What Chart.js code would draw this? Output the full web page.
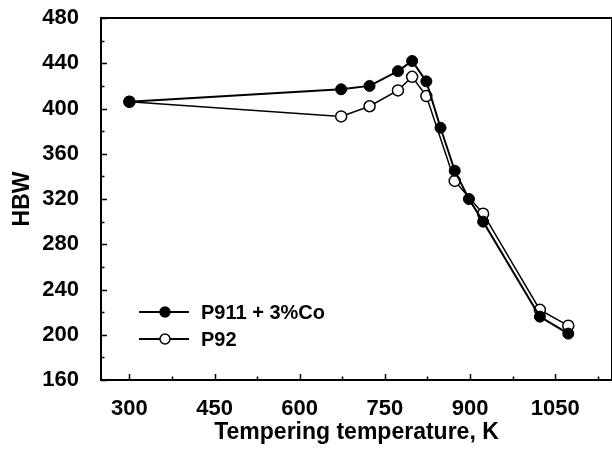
<!DOCTYPE html>
<html>
<head>
<meta charset="utf-8">
<script src="https://cdn.jsdelivr.net/npm/chart.js@4/dist/chart.umd.min.js"></script>
<style>
  html, body { margin: 0; padding: 0; background: #fff; }
  #wrap { width: 612px; height: 450px; }
</style>
</head>
<body>
<div id="wrap"><canvas id="c" width="612" height="450"></canvas></div>
<script>
// ---- data ----
const tempsCo  = [300, 673, 723, 773, 798, 823, 848, 873, 898, 923, 1023, 1073];
const hbwCo    = [406, 417, 420, 433, 442, 424, 383, 345, 320, 300, 216, 201];
const tempsP92 = [300, 673, 723, 773, 798, 823, 873, 923, 1023, 1073];
const hbwP92   = [406, 393, 402, 416, 428, 411, 336, 307, 222, 208];
const xTicks = [300, 450, 600, 750, 900, 1050];
const xMinor = [375, 525, 675, 825, 975, 1125];
const yTicks = [160, 200, 240, 280, 320, 360, 400, 440, 480];
const yMinor = [180, 220, 260, 300, 340, 380, 420, 460];
const labels = ['P911 + 3%Co', 'P92'];

const FONT = "'Liberation Sans', Arial, sans-serif";

const toPts = (xs, ys) => xs.map((x, i) => ({ x: x, y: ys[i] }));

const framePlugin = {
  id: 'frame',
  afterDraw(chart) {
    const { ctx, chartArea: a, scales: { x, y } } = chart;
    ctx.save();
    ctx.strokeStyle = '#000';
    ctx.lineWidth = 2;
    ctx.strokeRect(a.left, a.top, a.right - a.left, a.bottom - a.top);
    ctx.lineWidth = 1.5;
    ctx.beginPath();
    xTicks.forEach(v => { const p = Math.round(x.getPixelForValue(v)) + 0.5; ctx.moveTo(p, a.bottom); ctx.lineTo(p, a.bottom - 6); });
    xMinor.forEach(v => { const p = Math.round(x.getPixelForValue(v)) + 0.5; ctx.moveTo(p, a.bottom); ctx.lineTo(p, a.bottom - 3.5); });
    yTicks.forEach(v => { const p = Math.round(y.getPixelForValue(v)) + 0.5; ctx.moveTo(a.left, p); ctx.lineTo(a.left + 6, p); });
    yMinor.forEach(v => { const p = Math.round(y.getPixelForValue(v)) + 0.5; ctx.moveTo(a.left, p); ctx.lineTo(a.left + 3.5, p); });
    ctx.stroke();

    // legend inside plot
    const rows = [{ y: 312 }, { y: 339 }];
    chart.data.datasets.forEach((ds, i) => {
      const ry = rows[i].y;
      ctx.lineWidth = 2;
      ctx.strokeStyle = '#000';
      ctx.beginPath();
      ctx.moveTo(139, ry); ctx.lineTo(189, ry);
      ctx.stroke();
      ctx.beginPath();
      ctx.arc(165, ry, 5, 0, Math.PI * 2);
      ctx.fillStyle = ds.pointBackgroundColor;
      ctx.fill();
      ctx.lineWidth = 1.5;
      ctx.stroke();
      ctx.fillStyle = '#000';
      ctx.font = "bold 20px " + FONT;
      ctx.textAlign = 'left';
      ctx.textBaseline = 'middle';
      ctx.fillText(ds.label, 201, ry + 1);
    });
    ctx.restore();
  }
};

new Chart(document.getElementById('c'), {
  type: 'line',
  data: {
    datasets: [
      {
        label: labels[0],
        data: toPts(tempsCo, hbwCo),
        borderColor: '#000',
        borderWidth: 2,
        pointRadius: 5.5,
        pointBackgroundColor: '#000',
        pointBorderColor: '#000',
        pointBorderWidth: 1,
        tension: 0,
        fill: false
      },
      {
        label: labels[1],
        data: toPts(tempsP92, hbwP92),
        borderColor: '#000',
        borderWidth: 1.5,
        pointRadius: 5.5,
        pointBackgroundColor: '#fff',
        pointBorderColor: '#000',
        pointBorderWidth: 1.5,
        tension: 0,
        fill: false
      }
    ]
  },
  options: {
    responsive: false,
    animation: false,
    layout: { autoPadding: false, padding: { top: 18, right: 0, left: 0, bottom: 0 } },
    plugins: { legend: { display: false }, tooltip: { enabled: false } },
    scales: {
      x: {
        type: 'linear',
        min: 250,
        max: 1150,
        afterBuildTicks: s => { s.ticks = xTicks.map(v => ({ value: v })); },
        afterFit: s => { s.height = 70; s.paddingLeft = 0; s.paddingRight = 0; },
        grid: { display: false },
        border: { display: false },
        ticks: {
          color: '#000',
          font: { family: FONT, size: 22, weight: 'bold' },
          padding: 8,
          maxRotation: 0,
          autoSkip: false,
          callback: v => String(v)
        },
        title: {
          display: true,
          text: 'Tempering temperature, K',
          color: '#000',
          font: { family: FONT, size: 23, weight: 'bold' },
          padding: { top: 0, bottom: 4 }
        }
      },
      y: {
        min: 160,
        max: 480,
        afterBuildTicks: s => { s.ticks = yTicks.map(v => ({ value: v })); },
        afterFit: s => { s.width = 101; s.paddingTop = 0; s.paddingBottom = 0; },
        grid: { display: false },
        border: { display: false },
        ticks: {
          color: '#000',
          font: { family: FONT, size: 22, weight: 'bold' },
          padding: 14,
          callback: v => String(v)
        },
        title: {
          display: true,
          text: 'HBW',
          color: '#000',
          font: { family: FONT, size: 23, weight: 'bold' },
          padding: { top: 9, bottom: 0 }
        }
      }
    }
  },
  plugins: [framePlugin]
});
</script>
</body>
</html>
